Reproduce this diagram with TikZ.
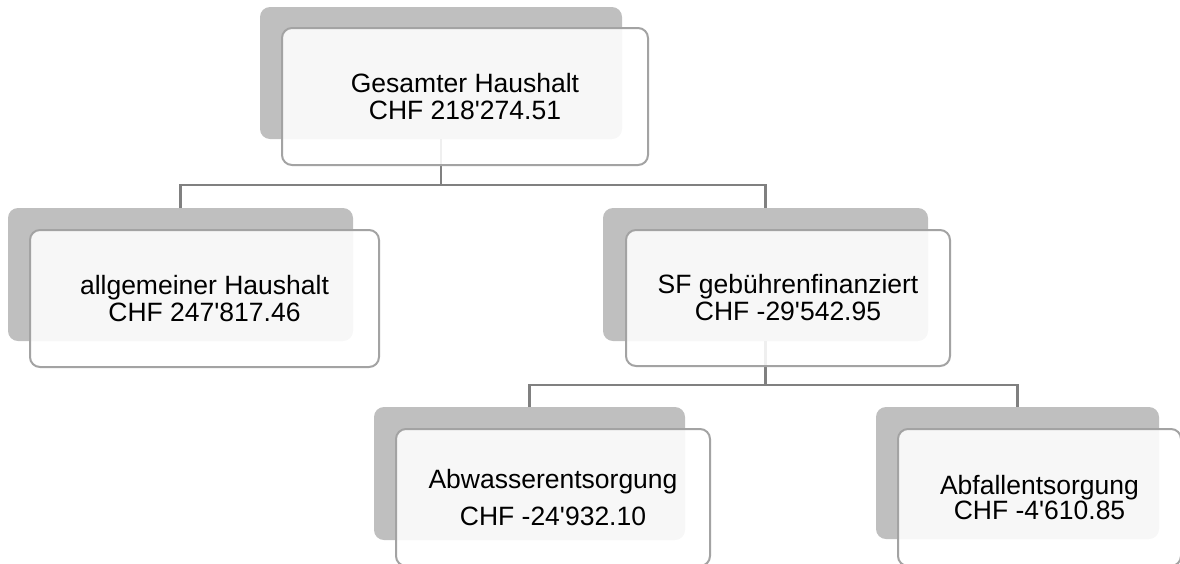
\documentclass[tikz,border=0pt]{standalone}
\usepackage{fontspec}
\newfontfamily\lib{Liberation Sans}
\definecolor{shgray}{HTML}{BFBFBF}
\definecolor{cardline}{HTML}{A3A3A3}
\definecolor{connline}{HTML}{808080}
\begin{document}
\begin{tikzpicture}[x=1pt,y=-1pt,
  backplate/.style={fill=shgray, rounded corners=10pt, inner sep=0pt, outer sep=0pt},
  card/.style={draw=cardline, line width=2pt, fill=white, fill opacity=0.88, text opacity=1,
    rounded corners=10pt, inner sep=0pt, outer sep=0pt, align=center,
    font=\lib\fontsize{26.5}{27}\selectfont},
  conn/.style={draw=connline, line width=2.7pt}]
\useasboundingbox (0,0) rectangle (1180,563);
\clip (0,0) rectangle (1180,563);
% back plates
\node[backplate, minimum width=362pt, minimum height=132pt] (g0) at (441,73) {};
\node[backplate, minimum width=345pt, minimum height=133pt] (g1) at (180.5,274.5) {};
\node[backplate, minimum width=325pt, minimum height=133pt] (g2) at (765.5,274.5) {};
\node[backplate, minimum width=311pt, minimum height=133pt] (g3) at (529.5,473.5) {};
\node[backplate, minimum width=283pt, minimum height=132pt] (g4) at (1017.5,473) {};
% connectors
\coordinate (j0) at (g0.south |- 0,185);
\coordinate (j1) at (g2.south |- 0,385);
\draw[conn] (g0.south) -- (j0);
\draw[conn] (g1.north) |- (j0) -| (g2.north);
\draw[conn] (g2.south) -- (j1);
\draw[conn] (g3.north) |- (j1) -| (g4.north);
% cards
\node[card, minimum width=366pt, minimum height=137pt] (b0) at (465,96.5) {Gesamter Haushalt\\CHF 218'274.51};
\node[card, minimum width=349pt, minimum height=137pt] (b1) at (204.5,298.5) {allgemeiner Haushalt\\CHF 247'817.46};
\node[card, minimum width=324pt, minimum height=136pt] (b2) at (788,298) {SF gebührenfinanziert\\CHF -29'542.95};
\node[card, minimum width=314pt, minimum height=137pt] (b3) at (553,497.5) {Abwasserentsorgung\\[10pt]CHF -24'932.10};
\node[card, minimum width=283pt, minimum height=137pt] (b4) at (1039.5,497.5) {Abfallentsorgung\\[-2pt]CHF -4'610.85};
\end{tikzpicture}
\end{document}
